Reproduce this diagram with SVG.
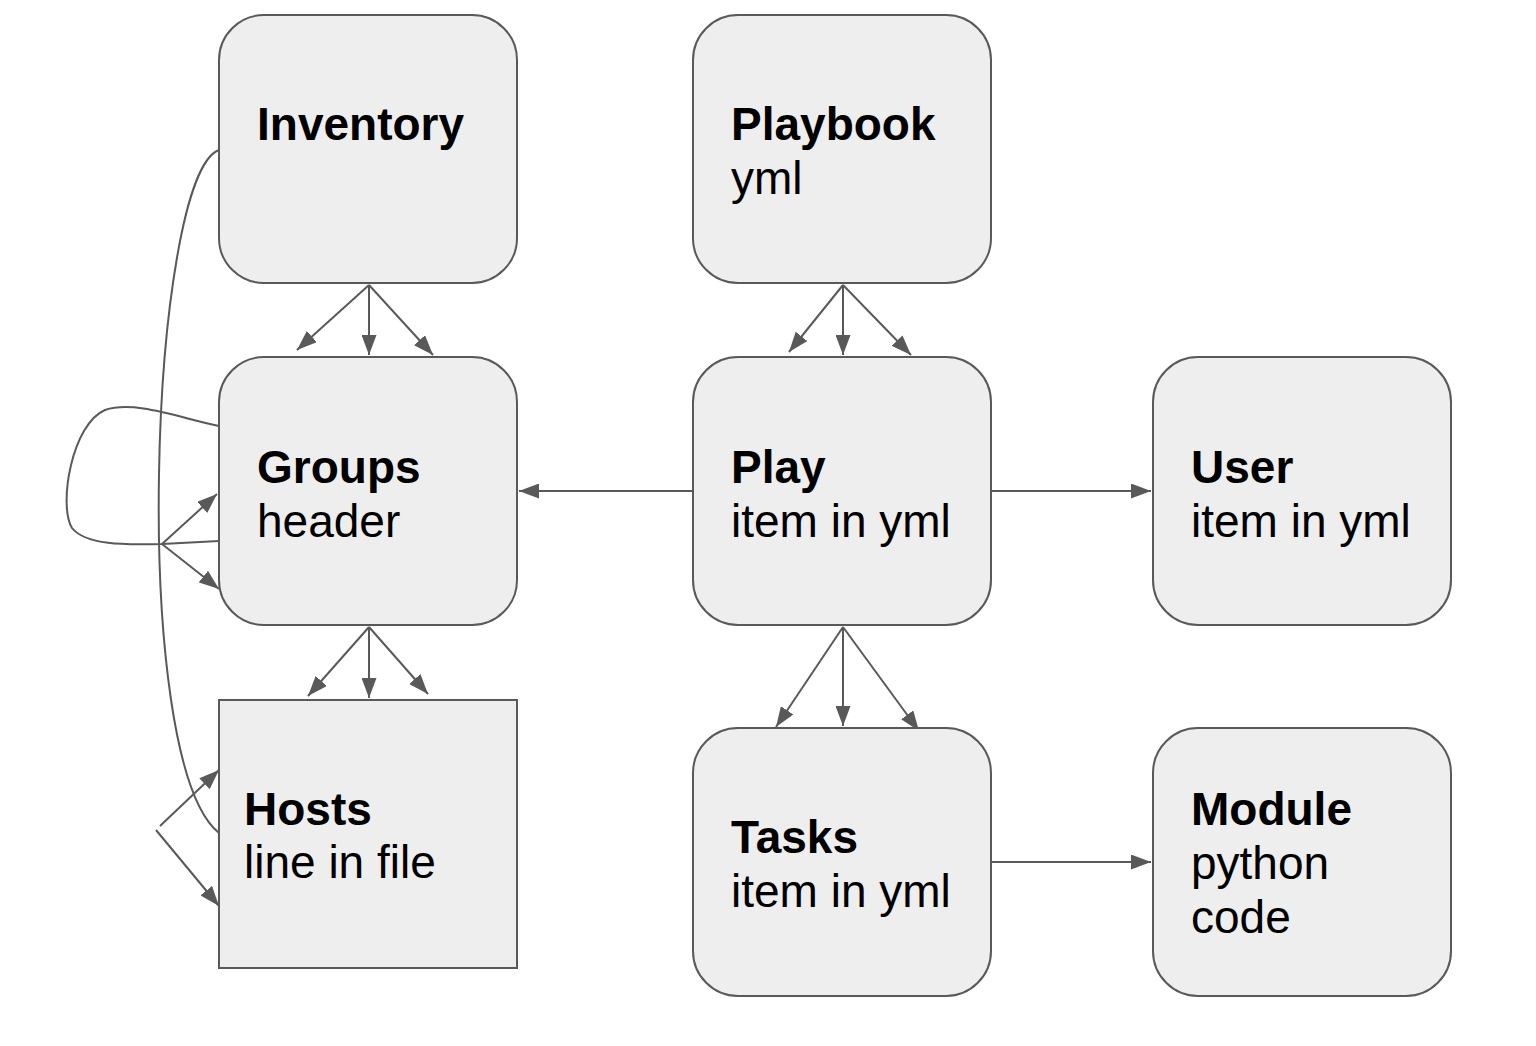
<svg xmlns="http://www.w3.org/2000/svg" width="1536" height="1046" viewBox="0 0 1536 1046">
<style>
.n{fill:#eeeeee;stroke:#595959;stroke-width:2}
.t{font-family:"Liberation Sans",Arial,sans-serif;font-size:46px;fill:#000}
.b{font-weight:bold}
.c{fill:none;stroke:#595959;stroke-width:2}
</style>
<defs>
<marker id="h" viewBox="0 0 10 10" refX="10" refY="5" markerWidth="20" markerHeight="15" markerUnits="userSpaceOnUse" orient="auto" preserveAspectRatio="none">
<path d="M0,0 L10,5 L0,10 Z" fill="#595959"/>
</marker>
</defs>
<rect width="1536" height="1046" fill="#fff"/>
<g id="connectors">
<path class="c" d="M219,150 C150,175 128,760 219,833"/>
<path class="c" d="M219,426 C180,418 135,400 105,410 C72,424 58,505 72,528 C88,548 140,544 162,544 L219,541"/>
<line class="c" x1="162" y1="544" x2="217" y2="494" marker-end="url(#h)"/>
<line class="c" x1="162" y1="544" x2="219" y2="589" marker-end="url(#h)"/>
<line class="c" x1="160" y1="826" x2="219" y2="770" marker-end="url(#h)"/>
<line class="c" x1="156" y1="830" x2="219" y2="906" marker-end="url(#h)"/>
<line class="c" x1="369" y1="285" x2="297" y2="350" marker-end="url(#h)"/>
<line class="c" x1="369" y1="285" x2="369" y2="355" marker-end="url(#h)"/>
<line class="c" x1="369" y1="285" x2="433" y2="355" marker-end="url(#h)"/>
<line class="c" x1="843" y1="285" x2="789" y2="352" marker-end="url(#h)"/>
<line class="c" x1="843" y1="285" x2="843" y2="355" marker-end="url(#h)"/>
<line class="c" x1="843" y1="285" x2="911" y2="355" marker-end="url(#h)"/>
<line class="c" x1="369" y1="627" x2="308" y2="696" marker-end="url(#h)"/>
<line class="c" x1="369" y1="627" x2="369" y2="698" marker-end="url(#h)"/>
<line class="c" x1="369" y1="627" x2="428" y2="694" marker-end="url(#h)"/>
<line class="c" x1="843" y1="627" x2="776" y2="727" marker-end="url(#h)"/>
<line class="c" x1="843" y1="627" x2="843" y2="726" marker-end="url(#h)"/>
<line class="c" x1="843" y1="627" x2="919" y2="731" marker-end="url(#h)"/>
<line class="c" x1="693" y1="491" x2="519" y2="491" marker-end="url(#h)"/>
<line class="c" x1="991" y1="491" x2="1151" y2="491" marker-end="url(#h)"/>
<line class="c" x1="991" y1="862" x2="1151" y2="862" marker-end="url(#h)"/>
</g>
<g id="inventory">
<rect class="n" x="219" y="15" width="298" height="268" rx="45"/>
<text class="t b" x="257" y="140">Inventory</text>
</g>
<g id="playbook">
<rect class="n" x="693" y="15" width="298" height="268" rx="45"/>
<text class="t b" x="731" y="140">Playbook</text>
<text class="t" x="731" y="194">yml</text>
</g>
<g id="groups">
<rect class="n" x="219" y="357" width="298" height="268" rx="45"/>
<text class="t b" x="257" y="483">Groups</text>
<text class="t" x="257" y="537">header</text>
</g>
<g id="play">
<rect class="n" x="693" y="357" width="298" height="268" rx="45"/>
<text class="t b" x="731" y="483">Play</text>
<text class="t" x="731" y="537">item in yml</text>
</g>
<g id="user">
<rect class="n" x="1153" y="357" width="298" height="268" rx="45"/>
<text class="t b" x="1191" y="483">User</text>
<text class="t" x="1191" y="537">item in yml</text>
</g>
<g id="hosts">
<rect class="n" x="219" y="700" width="298" height="268"/>
<text class="t b" x="244" y="825">Hosts</text>
<text class="t" x="244" y="878">line in file</text>
</g>
<g id="tasks">
<rect class="n" x="693" y="728" width="298" height="268" rx="45"/>
<text class="t b" x="731" y="853">Tasks</text>
<text class="t" x="731" y="907">item in yml</text>
</g>
<g id="module">
<rect class="n" x="1153" y="728" width="298" height="268" rx="45"/>
<text class="t b" x="1191" y="825">Module</text>
<text class="t" x="1191" y="879">python</text>
<text class="t" x="1191" y="933">code</text>
</g>
</svg>
